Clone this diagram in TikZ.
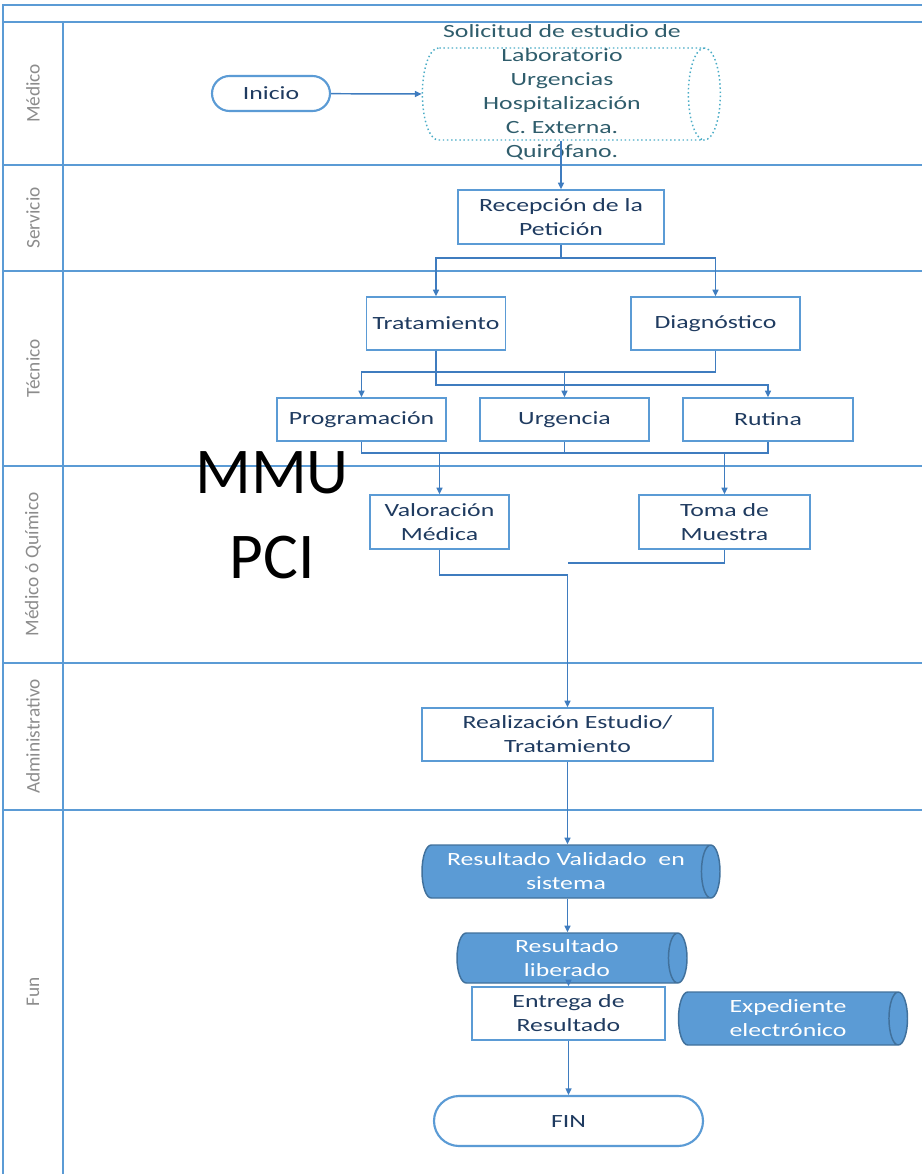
\documentclass[tikz,border=0pt]{standalone}
\usepackage{fontspec}
\setmainfont{Carlito}
\newfontfamily\boxfont{Carlito}[FakeStretch=1.38]
\usetikzlibrary{shapes.geometric,shapes.misc,arrows.meta}
\definecolor{laneblue}{HTML}{5B9BD5}
\definecolor{linkblue}{HTML}{3F7CBF}
\definecolor{boxtext}{HTML}{1F3B60}
\definecolor{reqtext}{HTML}{2F5D6C}
\definecolor{reqline}{HTML}{4BACC6}
\definecolor{storefill}{HTML}{5B9BD5}
\definecolor{storeline}{HTML}{41719C}
\definecolor{lanetext}{HTML}{8C8C8C}

\begin{document}
\begin{tikzpicture}[x=0.75pt,y=-0.75pt,
  laneline/.style={draw=laneblue,line width=2pt},
  lanelabel/.style={rotate=90,text=lanetext,font=\fontsize{14.5}{16}\selectfont},
  proc/.style={draw=laneblue,line width=1.1pt,fill=white,align=center,text=boxtext,
    font=\boxfont\fontsize{14}{18}\selectfont,inner sep=0pt},
  term/.style={proc,rounded rectangle,line width=1.6pt},
  store/.style={cylinder,draw=storeline,fill=storefill,line width=1.1pt,aspect=0.5,
    align=center,text=white,font=\boxfont\fontsize{14}{18}\selectfont,inner sep=0pt},
  request/.style={cylinder,draw=reqline,dotted,line width=1.1pt,aspect=0.4,inner sep=0pt},
  link/.style={draw=linkblue,line width=1.1pt},
  conn/.style={link,-{Triangle[length=5pt,width=4.5pt]}}]

\useasboundingbox (0,0) rectangle (922,1174);

% swimlanes
\foreach \y in {5,22,165,271,466,663,810}
  \draw[laneline] (2,\y) -- (922,\y);
\draw[laneline] (3,5) -- (3,1174);
\draw[laneline] (63,22) -- (63,1174);

\foreach \lab/\y [count=\i] in {Médico/93.5,Servicio/218,Técnico/368.5,Médico ó Químico/564.5,Administrativo/736.5,Fun/992}
  \node[lanelabel] (lane\i) at (33,\y) {\lab};

% request
\node[term,minimum width=88.5pt,minimum height=26.25pt] (inicio) at (271,93.5) {Inicio};
\node[request,minimum height=223.5pt,minimum width=69pt] (solicitud) at (563,94) {\rule{0pt}{60pt}};
\node[align=center,text=reqtext,font=\boxfont\fontsize{14}{18}\selectfont] (solicitudtxt) at (562,92.5)
  {Solicitud de estudio de\\Laboratorio\\Urgencias\\Hospitalización\\C. Externa.\\Quirófano.};

\node[proc,minimum width=154.5pt,minimum height=40.5pt] (recepcion) at (561,217) {Recepción de la\\Petición};

% tecnico
\node[proc,minimum width=104.25pt,minimum height=39.75pt] (tratamiento) at (436,323.5) {Tratamiento};
\node[proc,minimum width=126.75pt,minimum height=39.75pt] (diagnostico) at (715.5,323.5) {Diagnóstico};
\node[proc,minimum width=126.75pt,minimum height=32.25pt] (programacion) at (361.5,419.5) {Programación};
\node[proc,minimum width=126.75pt,minimum height=32.25pt] (urgencia) at (564.5,419.5) {Urgencia};
\node[proc,minimum width=127.5pt,minimum height=32.25pt] (rutina) at (768,419.5) {Rutina};

\node[proc,minimum width=104.25pt,minimum height=40.5pt] (valoracion) at (439.5,522) {Valoración\\Médica};
\node[proc,minimum width=128.25pt,minimum height=40.5pt] (toma) at (724.5,522) {Toma de\\Muestra};

\node[proc,minimum width=218.25pt,minimum height=39.75pt] (realizacion) at (567.5,734.5) {Realización Estudio/\\Tratamiento};

% resultados
\node[store,minimum height=223.5pt,minimum width=39.75pt] (validado) at (566,871.5) {Resultado Validado\ \ en\\sistema};
\node[store,minimum height=172.5pt,minimum width=37.5pt] (liberado) at (567,958) {Resultado\\liberado};
\node[proc,minimum width=144.75pt,minimum height=39.75pt] (entrega) at (568.5,1013.5) {Entrega de\\Resultado};
\node[store,minimum height=171.75pt,minimum width=39.75pt] (expediente) at (788,1018.5) {Expediente\\electrónico};
\node[term,minimum width=201.75pt,minimum height=37.5pt] (fin) at (568.5,1121) {FIN};

\node[align=center,font=\fontsize{49}{64}\selectfont] (mmu) at (272,515) {MMU\\PCI};

% connectors
\coordinate (split) at (561,258);
\coordinate (busA) at (715.5,372);
\coordinate (busB) at (436,385);
\coordinate (busC) at (361.5,453);
\coordinate (busD) at (567.5,575);
\coordinate (busE) at (567.5,563);

\draw[conn] (inicio) -- (solicitud.west);
\draw[conn] (recepcion.north |- solicitud.south) -- (recepcion.north);
\draw[link] (recepcion.south) -- (split);
\draw[conn] (split) -| (tratamiento.north);
\draw[conn] (split) -| (diagnostico.north);

\draw[conn] (diagnostico.south) -- (busA) -| (programacion.north);
\draw[conn] (tratamiento.south) -- (busB) -| (rutina.north);
\draw[conn] (busA -| urgencia.north) -- (urgencia.north);

\draw[link] (programacion.south) -- (busC) -| (rutina.south);
\draw[link] (urgencia.south) -- (urgencia.south |- busC);
\draw[conn] (valoracion.north |- busC) -- (valoracion.north);
\draw[conn] (toma.north |- busC) -- (toma.north);

\draw[conn] (valoracion.south) |- (busD) -- (realizacion.north);
\draw[link] (toma.south) |- (busE);

\draw[conn] (realizacion.south) -- (realizacion.south |- validado.north);
\draw[conn] (realizacion.south |- validado.south) -- (realizacion.south |- liberado.north);
\draw[conn] (entrega.north |- liberado.south) -- (entrega.north);
\draw[conn] (entrega.south) -- (fin.north);
\end{tikzpicture}
\end{document}
